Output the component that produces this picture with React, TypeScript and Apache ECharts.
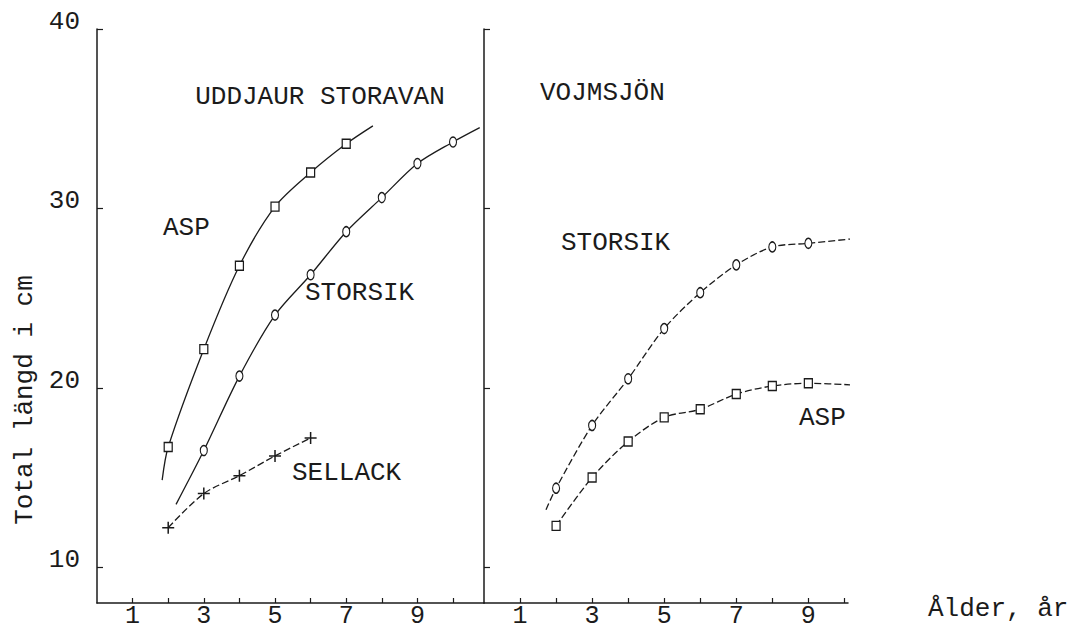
import React, { useEffect, useRef } from "react";
import * as echarts from "echarts";

// ---- Data (ålder i år, total längd i cm) ----
// UDDJAUR STORAVAN
const udAspAge = [2, 3, 4, 5, 6, 7];
const udAspLen = [16.7, 22.15, 26.8, 30.1, 32.0, 33.6];
const udAspCurveStart = [1.83, 14.85];
const udAspCurveEnd = [7.75, 34.6];

const udSikAge = [3, 4, 5, 6, 7, 8, 9, 10];
const udSikLen = [16.5, 20.65, 24.05, 26.3, 28.7, 30.6, 32.5, 33.7];
const udSikCurveStart = [2.22, 13.5];
const udSikCurveEnd = [10.75, 34.5];

const udSelAge = [2, 3, 4, 5, 6];
const udSelLen = [12.2, 14.1, 15.1, 16.2, 17.2];

// VOJMSJÖN
const vjSikAge = [2, 3, 4, 5, 6, 7, 8, 9];
const vjSikLen = [14.4, 17.9, 20.5, 23.3, 25.3, 26.85, 27.85, 28.05];
const vjSikCurveStart = [1.72, 13.2];
const vjSikCurveEnd = [10.2, 28.3];

const vjAspAge = [2, 3, 4, 5, 6, 7, 8, 9];
const vjAspLen = [12.3, 15.0, 17.0, 18.35, 18.8, 19.65, 20.1, 20.25];
const vjAspCurveEnd = [10.3, 20.15];

// Ticks
const yTickValues = [10, 20, 30, 40];
const xTickValues = [1, 2, 3, 4, 5, 6, 7, 8, 9, 10];
const xLabelValues = [1, 3, 5, 7, 9];

const INK = "#1b1b1b";
const FONT = "Liberation Mono";

function build(ages: number[], lens: number[], start?: number[], end?: number[]) {
  const d: any[] = [];
  if (start) d.push({ value: start, symbol: "none" });
  ages.forEach((a, i) => d.push({ value: [a, lens[i]] }));
  if (end) d.push({ value: end, symbol: "none" });
  return d;
}

const PLUS = "path://M0,6 L12,6 M6,0 L6,12";

export default function App() {
  const ref = useRef<HTMLDivElement>(null);
  useEffect(() => {
    if (!ref.current) return;
    const chart = echarts.init(ref.current, undefined, { renderer: "svg" });

    const axisLine = { show: true, lineStyle: { color: INK, width: 1.5 } };
    const xAxisCommon = (gridIndex: number, max: number) => ({
      type: "value",
      gridIndex,
      min: 0,
      max,
      axisLine,
      axisTick: {
        show: true,
        inside: true,
        length: 5,
        customValues: xTickValues,
        lineStyle: { color: INK, width: 1.2 },
      },
      axisLabel: {
        show: true,
        customValues: xLabelValues,
        margin: 3,
        fontFamily: FONT,
        fontSize: 25,
        lineHeight: 20,
        color: INK,
      },
      splitLine: { show: false },
    });
    const yAxisCommon = (gridIndex: number, showLabel: boolean) => ({
      type: "value",
      gridIndex,
      min: 8,
      max: 40,
      axisLine,
      axisTick: {
        show: true,
        inside: true,
        length: 6,
        customValues: yTickValues,
        lineStyle: { color: INK, width: 1.2 },
      },
      axisLabel: {
        show: showLabel,
        customValues: yTickValues,
        margin: 17,
        fontFamily: FONT,
        fontSize: 26,
        color: INK,
        verticalAlign: "bottom",
        lineHeight: 14,
      },
      splitLine: { show: false },
    });

    const lineBase = (xi: number, dashed: boolean) => ({
      type: "line",
      xAxisIndex: xi,
      yAxisIndex: xi,
      smooth: 0.3,
      clip: false,
      lineStyle: { color: INK, width: 1.3, type: dashed ? [7, 3] : "solid" },
      itemStyle: { color: "#fff", borderColor: INK, borderWidth: 1.3 },
      z: 3,
    });

    const txt = (text: string, x: number, y: number, extra: any = {}) => ({
      type: "text",
      x,
      y,
      ...extra,
      style: {
        text,
        fontFamily: FONT,
        fontSize: 26,
        fill: INK,
        verticalAlign: "middle",
        align: "left",
        ...(extra.style || {}),
      },
    });

    chart.setOption({
      animation: false,
      backgroundColor: "#fff",
      grid: [
        { left: 97, top: 29, width: 387, height: 574 },
        { left: 484, top: 29, width: 364, height: 574 },
      ],
      xAxis: [xAxisCommon(0, 10.87), xAxisCommon(1, 10.1)],
      yAxis: [yAxisCommon(0, true), yAxisCommon(1, false)],
      series: [
        {
          ...lineBase(0, false),
          name: "ASP Uddjaur",
          symbol: "rect",
          symbolSize: [8, 9],
          data: build(udAspAge, udAspLen, udAspCurveStart, udAspCurveEnd),
        },
        {
          ...lineBase(0, false),
          name: "STORSIK Uddjaur",
          symbol: "circle",
          symbolSize: [7, 10],
          data: build(udSikAge, udSikLen, udSikCurveStart, udSikCurveEnd),
        },
        {
          ...lineBase(0, true),
          name: "SELLACK Uddjaur",
          symbol: PLUS,
          symbolSize: 12,
          itemStyle: { color: "transparent", borderColor: INK, borderWidth: 1.5 },
          data: build(udSelAge, udSelLen),
        },
        {
          ...lineBase(1, true),
          name: "STORSIK Vojmsjön",
          symbol: "circle",
          symbolSize: [7, 10],
          data: build(vjSikAge, vjSikLen, vjSikCurveStart, vjSikCurveEnd),
        },
        {
          ...lineBase(1, true),
          name: "ASP Vojmsjön",
          symbol: "rect",
          symbolSize: [8, 9],
          data: build(vjAspAge, vjAspLen, undefined, vjAspCurveEnd),
        },
      ],
      graphic: [
        txt("UDDJAUR STORAVAN", 320, 97, { style: { align: "center" } }),
        txt("ASP", 163, 228),
        txt("STORSIK", 305, 293),
        txt("SELLACK", 292, 473),
        txt("VOJMSJÖN", 540, 93),
        txt("STORSIK", 561, 243),
        txt("ASP", 799, 418),
        txt("Ålder, år", 928, 609),
        txt("Total längd i cm", 25, 400, {
          rotation: Math.PI / 2,
          style: { align: "center" },
        }),
      ],
    });
    return () => chart.dispose();
  }, []);

  return (
    <div
      ref={ref}
      style={{ position: "absolute", left: 0, top: 0, width: 1071, height: 629, background: "#fff" }}
    />
  );
}
